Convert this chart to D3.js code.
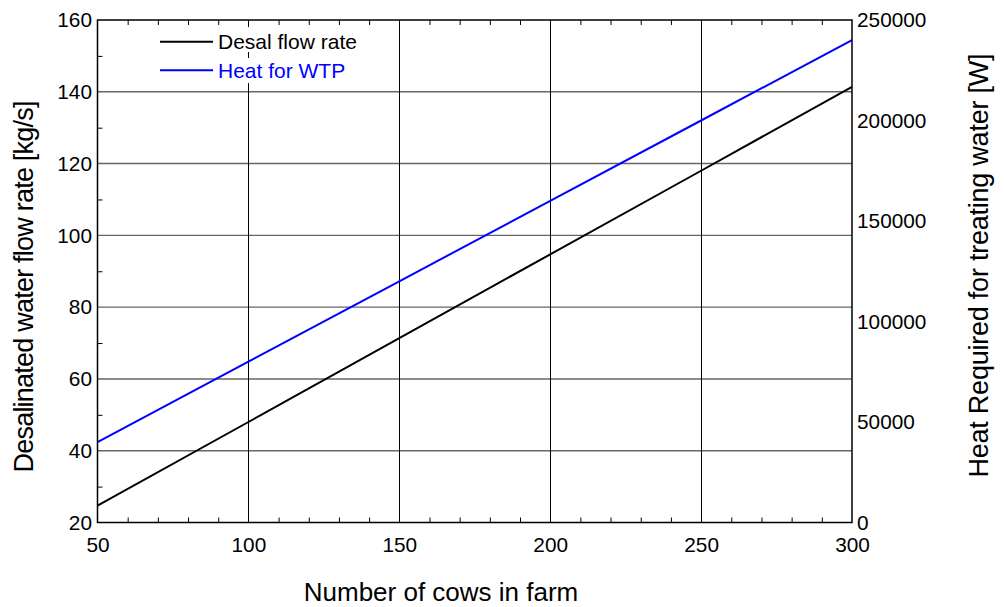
<!DOCTYPE html>
<html>
<head>
<meta charset="utf-8">
<script src="https://cdn.jsdelivr.net/npm/d3@7"></script>
<style>
  body { margin: 0; background: #fff; }
  text { font-family: "Liberation Sans", Arial, sans-serif; fill: #000; }
</style>
</head>
<body>
<div id="chart"></div>
<script>
const cows = [50, 100, 150, 200, 250, 300];
const desalFlow = [24.7, 48.0, 71.4, 94.7, 118.0, 141.4];
const heatWTP = [40000, 80000, 120000, 160000, 200000, 240000];

const xTicks = [50, 100, 150, 200, 250, 300];
const leftTicks = [20, 40, 60, 80, 100, 120, 140, 160];
const rightTicks = [0, 50000, 100000, 150000, 200000, 250000];
const legendLabels = ["Desal flow rate", "Heat for WTP"];

const COLORS = {
  desal: "#000000",
  heat: "#0000ff",
  hGrid: "#666",
};

const W = 1004, H = 607;
const plot = { left: 97.5, right: 852, top: 20, bottom: 522.5 };

const svg = d3.select("#chart").append("svg")
  .attr("width", W).attr("height", H);

const x = d3.scaleLinear().domain([50, 300]).range([plot.left, plot.right]);
const yL = d3.scaleLinear().domain([20, 160]).range([plot.bottom, plot.top]);
const yR = d3.scaleLinear().domain([0, 250000]).range([plot.bottom, plot.top]);

// horizontal grid (grey)
svg.append("g").selectAll("line")
  .data(leftTicks.slice(1, -1))
  .join("line")
  .attr("x1", plot.left).attr("x2", plot.right)
  .attr("y1", (d) => yL(d)).attr("y2", (d) => yL(d))
  .style("stroke", COLORS.hGrid).style("stroke-width", 1.4);

// vertical grid (black)
svg.append("g").selectAll("line")
  .data(xTicks.slice(1, -1))
  .join("line")
  .attr("x1", (d) => Math.round(x(d)) + 0.5).attr("x2", (d) => Math.round(x(d)) + 0.5)
  .attr("y1", plot.top).attr("y2", plot.bottom)
  .style("stroke", "#000").style("stroke-width", 1);

// minor ticks, inside the frame
const minorX = d3.range(60, 300, 10).filter((d) => d % 50 !== 0);
const minorY = d3.range(30, 160, 20);

svg.append("g").attr("transform", `translate(0,${plot.bottom})`)
  .call(d3.axisBottom(x).tickValues(minorX).tickSizeInner(-5).tickSizeOuter(0).tickFormat(""))
  .call((g) => g.select(".domain").remove());
svg.append("g").attr("transform", `translate(0,${plot.top})`)
  .call(d3.axisTop(x).tickValues(minorX).tickSizeInner(-5).tickSizeOuter(0).tickFormat(""))
  .call((g) => g.select(".domain").remove());
svg.append("g").attr("transform", `translate(${plot.left},0)`)
  .call(d3.axisLeft(yL).tickValues(minorY).tickSizeInner(-5).tickSizeOuter(0).tickFormat(""))
  .call((g) => g.select(".domain").remove());

// tick labels
const xAxis = svg.append("g").attr("transform", `translate(0,${plot.bottom})`)
  .call(d3.axisBottom(x).tickValues(xTicks).tickSize(0).tickPadding(15).tickFormat(d3.format("d")));
const lAxis = svg.append("g").attr("transform", `translate(${plot.left},0)`)
  .call(d3.axisLeft(yL).tickValues(leftTicks).tickSize(0).tickPadding(5.5).tickFormat(d3.format("d")));
const rAxis = svg.append("g").attr("transform", `translate(${plot.right},0)`)
  .call(d3.axisRight(yR).tickValues(rightTicks).tickSize(0).tickPadding(5).tickFormat(d3.format("d")));

[xAxis, lAxis, rAxis].forEach((g) => {
  g.select(".domain").remove();
  g.selectAll("text").style("font-size", "20.8px").style("font-family", '"Liberation Sans", Arial, sans-serif');
});

// legend background hides the grid behind it
svg.append("g").selectAll("rect")
  .data(legendLabels)
  .join("rect")
  .attr("x", 157).attr("y", (d, i) => 27 + i * 31)
  .attr("width", 210).attr("height", 25)
  .style("fill", "#fff");

// lines
const desalLine = d3.line().x((d, i) => x(cows[i])).y((d) => yL(d));
const heatLine = d3.line().x((d, i) => x(cows[i])).y((d) => yR(d));

svg.append("path").datum(heatWTP)
  .attr("d", heatLine)
  .style("fill", "none").style("stroke", COLORS.heat).style("stroke-width", 2);
svg.append("path").datum(desalFlow)
  .attr("d", desalLine)
  .style("fill", "none").style("stroke", COLORS.desal).style("stroke-width", 2);

// frame
svg.append("rect")
  .attr("x", plot.left).attr("y", plot.top)
  .attr("width", plot.right - plot.left).attr("height", plot.bottom - plot.top)
  .style("fill", "none").style("stroke", "#000").style("stroke-width", 1.5);

// legend
const legendColors = [COLORS.desal, COLORS.heat];
const legend = svg.append("g").selectAll("g")
  .data(legendLabels)
  .join("g")
  .attr("transform", (d, i) => `translate(160,${41.7 + i * 28.5})`);
legend.append("line")
  .attr("x1", 0).attr("x2", 53)
  .style("stroke", (d, i) => legendColors[i]).style("stroke-width", 2);
legend.append("text")
  .attr("x", 58).attr("dy", "0.35em")
  .style("font-size", "21px")
  .style("fill", (d, i) => legendColors[i])
  .text((d) => d);

// axis titles
svg.append("text")
  .attr("x", 441).attr("y", 601)
  .attr("text-anchor", "middle")
  .style("font-size", "26px")
  .text("Number of cows in farm");
svg.append("text")
  .attr("transform", "translate(33,286.5) rotate(-90)")
  .attr("text-anchor", "middle")
  .style("font-size", "27px")
  .attr("textLength", 372)
  .attr("lengthAdjust", "spacing")
  .text("Desalinated water flow rate [kg/s]");
svg.append("text")
  .attr("transform", "translate(988,265.5) rotate(-90)")
  .attr("text-anchor", "middle")
  .style("font-size", "27px")
  .attr("textLength", 424)
  .attr("lengthAdjust", "spacing")
  .text("Heat Required for treating water [W]");
</script>
</body>
</html>
